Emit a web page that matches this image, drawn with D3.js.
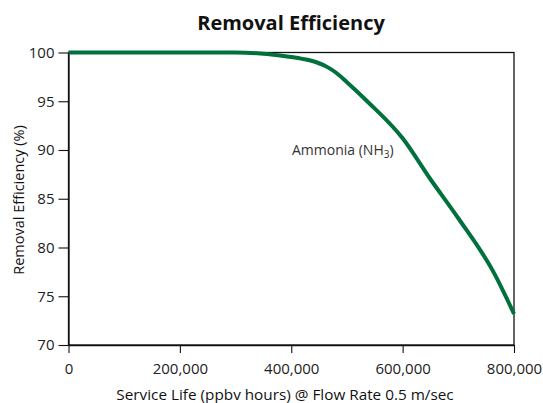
<!DOCTYPE html>
<html><head><meta charset="utf-8">
<script src="https://cdn.jsdelivr.net/npm/d3@7"></script>
<style>body{margin:0;background:#fff}svg{display:block}text{font-family:"Open Sans","Noto Sans",sans-serif}</style>
</head><body><svg id="c" width="543" height="403"></svg>
<script>
const serviceLife = [0, 300000, 380000, 420000, 445000, 465000, 480000, 500000, 540000, 600000, 650000, 700000, 765000, 800000];
const efficiency = [100, 100, 99.7, 99.35, 99.0, 98.5, 97.95, 96.95, 94.8, 91.2, 87.0, 83.0, 77.3, 73.2];
const xTicks = [0, 200000, 400000, 600000, 800000];
const yTicks = [70, 75, 80, 85, 90, 95, 100];
const title = "Removal Efficiency";
const xLabel = "Service Life (ppbv hours) @ Flow Rate 0.5 m/sec";
const yLabel = "Removal Efficiency (%)";

const svg = d3.select("#c");
const m = {l: 68.5, r: 514, t: 52.5, b: 345};
const x = d3.scaleLinear().domain([0, 800000]).range([m.l, m.r]);
const y = d3.scaleLinear().domain([70, 100]).range([m.b, m.t]);
const fmt = d3.format(",");

svg.append("rect").attr("x", m.l).attr("y", m.t).attr("width", m.r - m.l).attr("height", m.b - m.t)
  .attr("fill", "none").attr("stroke", "#111").attr("stroke-width", 1.3);

const xa = svg.append("g").attr("transform", `translate(0,${m.b})`)
  .call(d3.axisBottom(x).tickValues(xTicks).tickFormat(fmt).tickSize(8).tickSizeOuter(0));
const ya = svg.append("g").attr("transform", `translate(${m.l},0)`)
  .call(d3.axisLeft(y).tickValues(yTicks).tickSize(10).tickSizeOuter(0));
[xa, ya].forEach(a => {
  a.select(".domain").attr("stroke", "#111").attr("stroke-width", 1.3);
  a.selectAll(".tick line").attr("stroke", "#111").attr("stroke-width", 1.1);
  a.selectAll(".tick text").attr("fill", "#222").style("font-size", "15px");
});
xa.selectAll(".tick text").attr("dy", null).attr("y", 28.5);
ya.selectAll(".tick text").attr("x", -14);

const line = d3.line().x((d, i) => x(serviceLife[i])).y(d => y(d)).curve(d3.curveMonotoneX);
svg.append("path").attr("d", line(efficiency)).attr("fill", "none")
  .attr("stroke", "#00703c").attr("stroke-width", 4).attr("stroke-linejoin", "round");

svg.append("text").attr("x", 291).attr("y", 30).attr("text-anchor", "middle")
  .style("font-size", "20px").style("font-weight", "bold").attr("fill", "#111").text(title);
svg.append("text").attr("x", 285).attr("y", 399.5).attr("text-anchor", "middle")
  .style("font-size", "15.3px").attr("fill", "#111").text(xLabel);
svg.append("text").attr("transform", "translate(24,200) rotate(-90)").attr("text-anchor", "middle")
  .style("font-size", "14.5px").attr("fill", "#111").text(yLabel);

const lab = svg.append("text").attr("x", 292).attr("y", 155).style("font-size", "14px").attr("fill", "#333");
lab.append("tspan").text("Ammonia (NH");
lab.append("tspan").attr("dy", 3).style("font-size", "10px").text("3");
lab.append("tspan").attr("dy", -3).text(")");
</script></body></html>
